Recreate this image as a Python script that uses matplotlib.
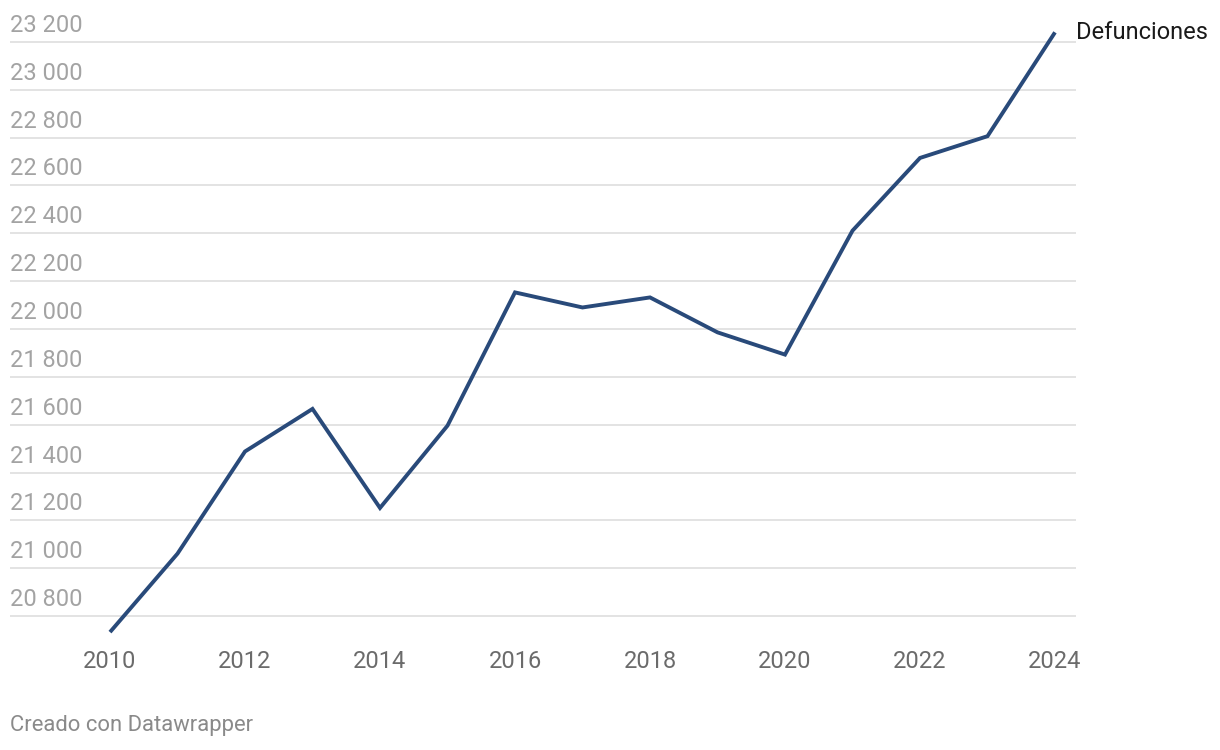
import matplotlib.pyplot as plt
import matplotlib.transforms as mtransforms

plt.rcParams["font.family"] = ["Roboto", "DejaVu Sans"]

years = list(range(2010, 2025))
deaths = [20733, 21061, 21488, 21666, 21252, 21596, 22153, 22090, 22132,
          21986, 21893, 22411, 22715, 22806, 23240]
y_ticks = [20800, 21000, 21200, 21400, 21600, 21800, 22000, 22200, 22400,
           22600, 22800, 23000, 23200]
x_ticks = [2010, 2012, 2014, 2016, 2018, 2020, 2022, 2024]
series_label = "Defunciones"
footer = "Creado con Datawrapper"

W, H = 1220, 750
fig = plt.figure(figsize=(W / 100, H / 100), dpi=100)
ax = fig.add_axes([10 / W, 1 - 640 / H, 1066 / W, 622 / H])
ax.set_xlim(2010 - 100 / 67.5, 2024 + 21 / 67.5)
ax.set_ylim(20700, 23300)

for v in y_ticks:
    ax.axhline(v, color="#e1e1e1", linewidth=1.3, zorder=1)

trans = mtransforms.blended_transform_factory(ax.transAxes, ax.transData)
offset = mtransforms.ScaledTranslation(0, 5 / 100, fig.dpi_scale_trans)
for v in y_ticks:
    ax.text(0, v, f"{v:,}".replace(",", " "), transform=trans + offset,
            ha="left", va="bottom", fontsize=17, color="#a3a3a3")

ax.plot(years, deaths, color="#294a7a", linewidth=2.8,
        solid_joinstyle="miter", solid_capstyle="butt", zorder=3)

ax.annotate(series_label, xy=(years[-1], deaths[-1]), xytext=(21, 0),
            textcoords="offset pixels", ha="left", va="center",
            fontsize=17, color="#1a1a1a", annotation_clip=False)

ax.set_xticks(x_ticks)
ax.set_xticklabels([str(x) for x in x_ticks])
ax.tick_params(axis="x", length=0, labelsize=17, labelcolor="#6b6b6b", pad=7)
ax.set_yticks([])
for s in ax.spines.values():
    s.set_visible(False)

fig.text(10 / W, 1 - 726 / H, footer, ha="left", va="center",
         fontsize=15.8, color="#8a8a8a")

fig.savefig("out.png", dpi=100)
